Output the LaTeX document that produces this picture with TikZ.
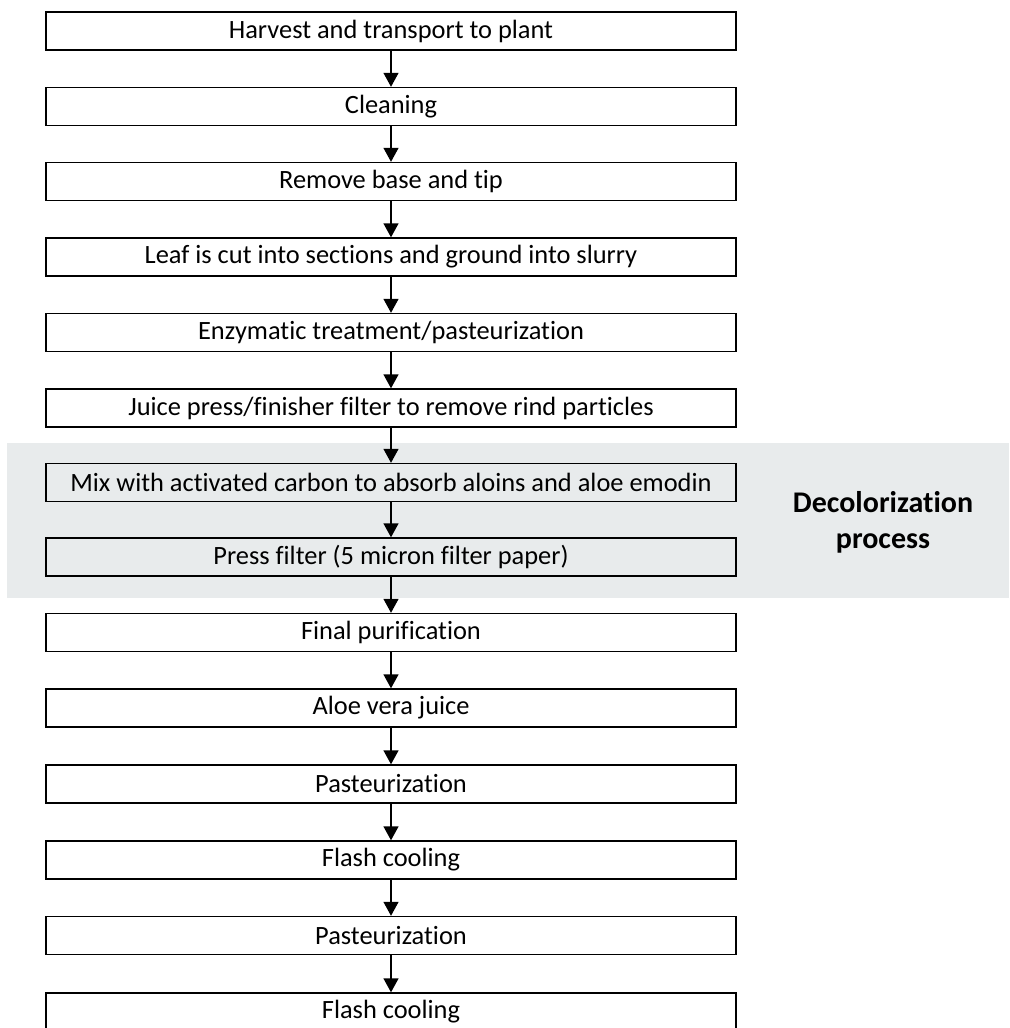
\documentclass[tikz,border=0pt]{standalone}
\usepackage{fontspec}
\setmainfont{Carlito}[RawFeature={-liga}]
\usetikzlibrary{arrows.meta}

\definecolor{bandgray}{RGB}{232,235,236}

\tikzset{
  stepbox/.style={draw, fill=white, line width=0.7pt, minimum width=345pt,
    minimum height=19pt, inner sep=0pt, font=\fontsize{13.2}{15}\selectfont},
  flow/.style={-{Triangle[length=7pt,width=7.5pt]}, line width=0.7pt},
}

\begin{document}
\begin{tikzpicture}[x=0.5pt,y=-0.5pt]
  \clip (0,0) rectangle (1009,1028);
  % shaded band for the decolorization steps
  \fill[bandgray] (7,443) rectangle (1009,598);

  \node[stepbox] (harvest) at (391,31) {Harvest and transport to plant};
  \node[stepbox] (clean) at (391,106.5) {Cleaning};
  \node[stepbox] (remove) at (391,181.5) {Remove base and tip};
  \node[stepbox] (slurry) at (391,257) {Leaf is cut into sections and ground into slurry};
  \node[stepbox] (enzyme) at (391,332.5) {Enzymatic treatment/pasteurization};
  \node[stepbox] (juicepress) at (391,408) {Juice press/finisher filter to remove rind particles};
  \node[stepbox, fill=bandgray] (carbon) at (391,482.5) {Mix with activated carbon to absorb aloins and aloe emodin};
  \node[stepbox, fill=bandgray] (pressfilter) at (391,557) {Press filter (5 micron filter paper)};
  \node[stepbox] (purify) at (391,632.5) {Final purification};
  \node[stepbox] (juice) at (391,708) {Aloe vera juice};
  \node[stepbox] (past1) at (391,784) {Pasteurization};
  \node[stepbox] (cool1) at (391,860) {Flash cooling};
  \node[stepbox] (past2) at (391,935.5) {Pasteurization};
  \node[stepbox] (cool2) at (391,1012) {Flash cooling};

  \node[align=center, font=\fontsize{15}{18}\selectfont\bfseries] (decolor) at (883,522)
    {Decolorization\\process};

  \foreach \a/\b in {harvest/clean, clean/remove, remove/slurry, slurry/enzyme,
      enzyme/juicepress, juicepress/carbon, carbon/pressfilter, pressfilter/purify,
      purify/juice, juice/past1, past1/cool1, cool1/past2, past2/cool2}
    \draw[flow] (\a) -- (\b);
\end{tikzpicture}
\end{document}
